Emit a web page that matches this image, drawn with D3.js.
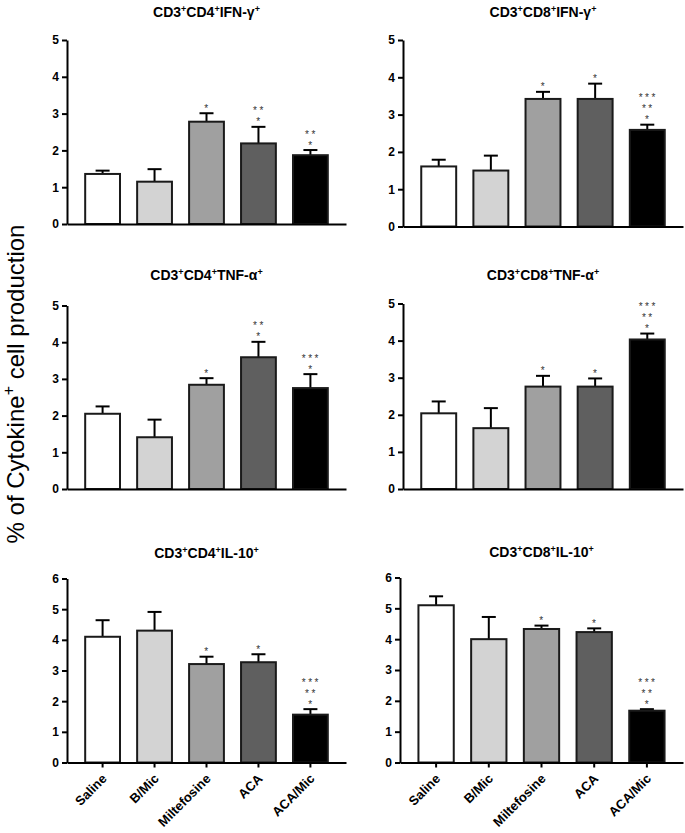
<!DOCTYPE html>
<html>
<head>
<meta charset="utf-8">
<script src="https://d3js.org/d3.v7.min.js"></script>
<style>
  body { margin: 0; background: #fff; }
  svg { display: block; }
  * { font-family: "Liberation Sans", Arial, sans-serif; }
</style>
</head>
<body>
<div id="chart"></div>
<script>
  // groups along the x axis
  var categories = ["Saline", "B/Mic", "Miltefosine", "ACA", "ACA/Mic"];

  // panel titles (marker, cytokine)
  var titles = [
    ["CD4", "IFN-\u03b3"], ["CD8", "IFN-\u03b3"],
    ["CD4", "TNF-\u03b1"], ["CD8", "TNF-\u03b1"],
    ["CD4", "IL-10"], ["CD8", "IL-10"]
  ];

  // means
  var cd4Ifn = [1.36, 1.15, 2.78, 2.19, 1.87];
  var cd8Ifn = [1.61, 1.50, 3.42, 3.42, 2.59];
  var cd4Tnf = [2.05, 1.41, 2.84, 3.59, 2.75];
  var cd8Tnf = [2.04, 1.64, 2.76, 2.76, 4.03];
  var cd4Il10 = [4.10, 4.30, 3.21, 3.27, 1.56];
  var cd8Il10 = [5.10, 4.00, 4.33, 4.23, 1.68];

  // upper error (SEM)
  var cd4IfnErr = [0.09, 0.34, 0.23, 0.45, 0.14];
  var cd8IfnErr = [0.18, 0.40, 0.19, 0.41, 0.14];
  var cd4TnfErr = [0.20, 0.48, 0.18, 0.42, 0.38];
  var cd8TnfErr = [0.32, 0.54, 0.29, 0.22, 0.16];
  var cd4Il10Err = [0.54, 0.61, 0.24, 0.26, 0.18];
  var cd8Il10Err = [0.29, 0.72, 0.11, 0.12, 0.05];

  // significance marks, bottom line first
  var cd4IfnSig = [[], [], ["*"], ["*", "**"], ["*", "**"]];
  var cd8IfnSig = [[], [], ["*"], ["*"], ["*", "**", "***"]];
  var cd4TnfSig = [[], [], ["*"], ["*", "**"], ["*", "***"]];
  var cd8TnfSig = [[], [], ["*"], ["*"], ["*", "**", "***"]];
  var cd4Il10Sig = [[], [], ["*"], ["*"], ["*", "**", "***"]];
  var cd8Il10Sig = [[], [], ["*"], ["*"], ["*", "**", "***"]];

  var yTicks5 = [0, 1, 2, 3, 4, 5];
  var yTicks6 = [0, 1, 2, 3, 4, 5, 6];

  var panelData = [
    { mean: cd4Ifn, err: cd4IfnErr, sig: cd4IfnSig, ticks: yTicks5 },
    { mean: cd8Ifn, err: cd8IfnErr, sig: cd8IfnSig, ticks: yTicks5 },
    { mean: cd4Tnf, err: cd4TnfErr, sig: cd4TnfSig, ticks: yTicks5 },
    { mean: cd8Tnf, err: cd8TnfErr, sig: cd8TnfSig, ticks: yTicks5 },
    { mean: cd4Il10, err: cd4Il10Err, sig: cd4Il10Sig, ticks: yTicks6 },
    { mean: cd8Il10, err: cd8Il10Err, sig: cd8Il10Sig, ticks: yTicks6 }
  ];

  // where each panel sits on the page
  var layout = [
    { left: 67, right: 346, bottom: 224, top: 40, titleY: 17, xLabels: false },
    { left: 403, right: 683, bottom: 226.5, top: 40, titleY: 17, xLabels: false },
    { left: 67, right: 346, bottom: 489, top: 305.5, titleY: 280, xLabels: false },
    { left: 403, right: 683, bottom: 489, top: 303.5, titleY: 280, xLabels: false },
    { left: 67, right: 346, bottom: 762.5, top: 578.5, titleY: 558, xLabels: true },
    { left: 400, right: 683, bottom: 762.5, top: 577.5, titleY: 557, xLabels: true }
  ];

  var color = d3.scaleOrdinal()
    .domain(categories)
    .range(["#ffffff", "#d3d3d3", "#a0a0a0", "#5f5f5f", "#000000"]);

  var svg = d3.select("#chart")
    .append("svg")
    .attr("width", 685)
    .attr("height", 833);

  // shared y label
  var yLab = svg.append("text")
    .attr("transform", "translate(24,384) rotate(-90)")
    .attr("text-anchor", "middle")
    .style("font-size", "24px")
    .style("fill", "#000");
  yLab.append("tspan").text("% of Cytokine");
  yLab.append("tspan").attr("dy", -10).style("font-size", "16px").text("+");
  yLab.append("tspan").attr("dy", 10).text(" cell production");

  panelData.forEach(function (p, k) {
    var L = layout[k];
    var g = svg.append("g");

    var x = d3.scaleBand()
      .domain(categories)
      .range([L.left, L.right])
      .paddingInner(0.33)
      .paddingOuter(0.35);

    var yMax = d3.max(p.ticks);
    var y = d3.scaleLinear()
      .domain([0, yMax])
      .range([L.bottom, L.top]);

    // title
    var t = g.append("text")
      .attr("x", (L.left + L.right) / 2)
      .attr("y", L.titleY)
      .attr("text-anchor", "middle")
      .style("font-size", "14px")
      .style("font-weight", "bold");
    t.append("tspan").text("CD3");
    t.append("tspan").attr("dy", -5).style("font-size", "9px").text("+");
    t.append("tspan").attr("dy", 5).text(titles[k][0]);
    t.append("tspan").attr("dy", -5).style("font-size", "9px").text("+");
    t.append("tspan").attr("dy", 5).text(titles[k][1]);
    t.append("tspan").attr("dy", -5).style("font-size", "9px").text("+");

    var rows = categories.map(function (c, i) {
      return { cat: c, mean: p.mean[i], err: p.err[i], sig: p.sig[i] };
    });

    // error bars (upper only)
    g.selectAll(".eb")
      .data(rows)
      .enter()
      .append("line")
      .attr("x1", function (d) { return x(d.cat) + x.bandwidth() / 2; })
      .attr("x2", function (d) { return x(d.cat) + x.bandwidth() / 2; })
      .attr("y1", function (d) { return y(d.mean); })
      .attr("y2", function (d) { return y(d.mean + d.err); })
      .attr("stroke", "#000")
      .attr("stroke-width", 2);
    g.selectAll(".cap")
      .data(rows)
      .enter()
      .append("line")
      .attr("x1", function (d) { return x(d.cat) + x.bandwidth() / 2 - 7; })
      .attr("x2", function (d) { return x(d.cat) + x.bandwidth() / 2 + 7; })
      .attr("y1", function (d) { return y(d.mean + d.err); })
      .attr("y2", function (d) { return y(d.mean + d.err); })
      .attr("stroke", "#000")
      .attr("stroke-width", 2);

    // bars
    g.selectAll(".bar")
      .data(rows)
      .enter()
      .append("rect")
      .attr("x", function (d) { return x(d.cat); })
      .attr("y", function (d) { return y(d.mean); })
      .attr("width", x.bandwidth())
      .attr("height", function (d) { return y(0) - y(d.mean); })
      .attr("fill", function (d) { return color(d.cat); })
      .attr("stroke", "#1a1a1a")
      .attr("stroke-width", 2);

    // significance stars
    rows.forEach(function (d) {
      d.sig.forEach(function (s, j) {
        g.append("text")
          .attr("x", x(d.cat) + x.bandwidth() / 2 + 1)
          .attr("y", y(d.mean + d.err) - 1.5 - j * 11)
          .attr("text-anchor", "middle")
          .style("font-size", "10px")
          .style("letter-spacing", "2.5px")
          .style("fill", "#333")
          .text(s);
      });
    });

    // y axis
    var yAxis = g.append("g")
      .attr("transform", "translate(" + L.left + ",0)")
      .call(d3.axisLeft(y).tickValues(p.ticks).tickFormat(d3.format("d"))
        .tickSize(5).tickSizeOuter(0).tickPadding(3));
    yAxis.select(".domain").attr("stroke-width", 2);
    yAxis.selectAll(".tick line").attr("stroke-width", 2);
    yAxis.selectAll("text")
      .style("font-size", "12px")
      .style("font-weight", "bold")
      .style("font-family", "Liberation Sans, Arial, sans-serif")
      .attr("fill", "#000");

    // x axis
    var xAxis = g.append("g")
      .attr("transform", "translate(0," + L.bottom + ")")
      .call(d3.axisBottom(x)
        .tickSize(L.xLabels ? 5 : 0)
        .tickSizeOuter(0)
        .tickFormat(L.xLabels ? null : ""));
    xAxis.select(".domain").attr("stroke-width", 2);
    xAxis.selectAll(".tick line").attr("stroke-width", 2);
    if (L.xLabels) {
      xAxis.selectAll("text")
        .attr("x", 0)
        .attr("y", 0)
        .attr("dy", 0)
        .attr("text-anchor", "end")
        .attr("transform", "translate(5,17) rotate(-45)")
        .style("font-size", "13px")
        .style("font-weight", "bold")
        .style("font-family", "Liberation Sans, Arial, sans-serif")
        .attr("fill", "#000");
    }
  });
</script>
</body>
</html>
